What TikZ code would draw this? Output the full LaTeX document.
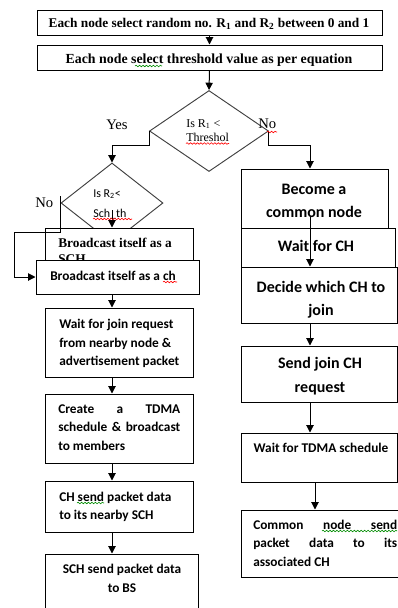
\documentclass[tikz,border=0pt]{standalone}
\usepackage{fontspec}
\setmainfont{Liberation Serif}
\newfontfamily\calib{Carlito}
\usetikzlibrary{shapes.geometric,arrows.meta,decorations.pathmorphing,calc}
\tikzset{
  box/.style={draw=black, line width=0.75pt, fill=white, rectangle, inner sep=0pt},
  dia/.style={draw=black!75, line width=0.7pt, diamond, inner sep=0pt, fill=white},
  txt/.style={inner sep=0pt, anchor=base, text=black},
  txtl/.style={inner sep=0pt, anchor=base west, text=black},
  arr/.style={line width=0.75pt, -{Triangle[length=5.5pt,width=5.5pt]}},
  lin/.style={line width=0.75pt},
  squig/.style={decorate, decoration={snake, amplitude=0.6pt, segment length=2.6pt}, line width=0.45pt},
  serB/.style={font=\fontsize{10}{12}\selectfont\bfseries},
  serBb/.style={font=\fontsize{10.4}{12}\selectfont\bfseries},
  serR/.style={font=\fontsize{9}{10}\selectfont},
  serL/.style={font=\fontsize{11}{13}\selectfont},
  calB/.style={font=\calib\bfseries\fontsize{10}{12}\selectfont},
  calBL/.style={font=\calib\bfseries\fontsize{12}{14}\selectfont},
  calR/.style={font=\calib\fontsize{9}{11}\selectfont},
}
\newcommand\pbox[5]{\node[box, minimum width={(#4-#2)*0.75pt}, minimum height={(#5-#3)*0.75pt}] (#1) at ({(#2+#4)/2},{(#3+#5)/2}) {};}
\begin{document}
\begin{tikzpicture}[x=0.75pt,y=-0.75pt]
\useasboundingbox (0,0) rectangle (398,608);
\fill[white] (0,0) rectangle (398,608);
\coordinate (lc) at (112,0);
\coordinate (rc) at (310,0);
\coordinate (rc2) at (315,0);
\coordinate (k1) at (14,232);
% top boxes
\pbox{b1}{37}{10}{382}{35}
\node[txt,serB] (t1) at (209,27.7) {Each node select random no. R\textsubscript{1} and R\textsubscript{2} between 0 and 1};
\pbox{b2}{37}{45}{382}{70}
\node[txt,serBb] (t2) at (209,63.3) {Each node select threshold value as per equation};
\draw[arr] (b1.south) -- (b2.north);
% diamond 1
\node[dia, minimum width={119*0.75pt}, minimum height={81*0.75pt}] (d1) at (209,131) {};
\draw[arr] (b2.south) -- (d1.north);
\node[txtl,serR] (t3) at (186,127) {Is R\textsubscript{1} <};
\node[txtl,serR] (t4) at (186,141) {Threshol};
\node[txtl,serL] (yes) at (106,129) {Yes};
\node[txtl,serL] (no1) at (258,128) {No};
% diamond 2
\node[dia, minimum width={102*0.75pt}, minimum height={80*0.75pt}] (d2) at (112,203) {};
\draw[arr] (d1.west) -- ++(0,14) -| (d2.north);
\node[txtl,calR] (t5) at (93,197) {Is R\textsubscript{2}<};
\node[txtl,calR] (t6) at (93,217) {Sch\_th};
\node[txtl,serL] (no2) at (35,207) {No};
% left column
\pbox{L1}{45}{228}{193}{260}
\node[txtl,serB] (t7) at (58,247) {Broadcast itself as a};
\node[txtl,serB] (t8) at (58,263) {SCH};
\draw[arr] ($(d2.center)+(0,7)$) -- (lc |- L1.north);
\pbox{L2}{36}{260}{199}{294}
\node[txtl,calB] (t9) at (50,280) {Broadcast itself as a ch};
\draw[arr] ($(d2.west)+(0,-7)$) |- (k1) |- (L2.west);
\pbox{L3}{45}{308}{193}{377}
\node[txtl,calB] (t10) at (59,328) {Wait for join request};
\node[txtl,calB] (t11) at (59,347) {from nearby node \&};
\node[txtl,calB] (t12) at (59,365) {advertisement packet};
\draw[arr] (lc |- L2.south) -- (lc |- L3.north);
\pbox{L4}{45}{394}{193}{463}
\node[txtl,calB] (t13) at (58,413) {\makebox[91.5pt][s]{Create a TDMA}};
\node[txtl,calB] (t14) at (58,431) {\makebox[91.5pt][s]{schedule \& broadcast}};
\node[txtl,calB] (t15) at (58,450) {to members};
\draw[arr] (lc |- L3.south) -- (lc |- L4.north);
\pbox{L5}{45}{481}{193}{532}
\node[txtl,calB] (t16) at (59,501) {CH send packet data};
\node[txtl,calB] (t17) at (59,519) {to its nearby SCH};
\draw[arr] (lc |- L4.south) -- (lc |- L5.north);
\pbox{L6}{45}{554}{198}{615}
\node[txt,calB] (t18) at (122,573) {SCH send packet data};
\node[txt,calB] (t19) at (122,592) {to BS};
\draw[arr] (lc |- L5.south) -- (lc |- L6.north);
% right column
\pbox{R1}{241}{169}{388}{228}
\node[txt,calBL] (t20) at (314,194) {Become a};
\node[txt,calBL] (t21) at (314,217) {common node};
\draw[arr] (d1.east) -- ++(0,14) -| (rc |- R1.north);
\pbox{R2}{241}{228}{395}{267}
\node[txt,calBL] (t22) at (316,251) {Wait for CH};
\pbox{R3}{241}{267}{397}{323}
\node[txt,calBL] (t23) at (321,292) {Decide which CH to};
\node[txt,calBL] (t24) at (321,315) {join};
\draw[arr] (rc |- t21.south) -- (rc |- R3.north);
\pbox{R4}{241}{346}{397}{402}
\node[txt,calBL] (t25) at (320,368) {Send join CH};
\node[txt,calBL] (t26) at (320,392) {request};
\draw[arr] (rc |- R3.south) -- (rc |- R4.north);
\pbox{R5}{241}{433}{397}{482}
\node[txt,calB] (t27) at (321,452) {Wait for TDMA schedule};
\draw[arr] (rc |- R4.south) -- (rc |- R5.north);
\pbox{R6}{241}{510}{402}{577}
\node[txtl,calB] (t28) at (253,529) {\makebox[108pt][s]{Common node send}};
\node[txtl,calB] (t29) at (253,547) {\makebox[108pt][s]{packet data to its}};
\node[txtl,calB] (t30) at (253,566) {associated CH};
\draw[arr] (rc2 |- R5.south) -- (rc2 |- R6.north);
% spell-check squiggles
\draw[squig, green!55!black] (135,66) -- (162,66);
\draw[squig, red] (186,143.5) -- (229,143.5);
\draw[squig, red] (267,132) -- (277,132);
\draw[squig, red] (93,219) -- (132,219);
\draw[squig, red] (163,282) -- (177,282);
\draw[squig, green!55!black] (77,503) -- (104,503);
\draw[squig, green!55!black] (322,531) -- (397,531);
\end{tikzpicture}
\end{document}
